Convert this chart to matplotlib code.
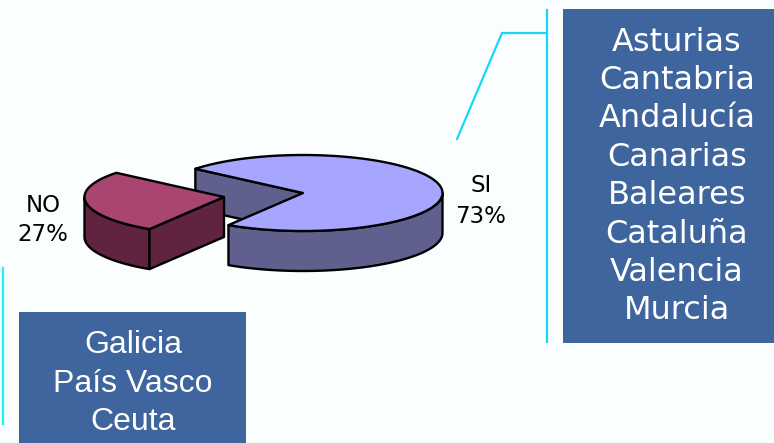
import numpy as np
import matplotlib
matplotlib.use("Agg")
import matplotlib.pyplot as plt
from matplotlib.patches import Polygon, Rectangle

# Data
categories = ["SI", "NO"]
values = [73, 27]
si_regions = ["Asturias", "Cantabria", "Andalucía", "Canarias", "Baleares", "Cataluña", "Valencia", "Murcia"]
no_regions = ["Galicia", "País Vasco", "Ceuta"]

BG = "#FBFEFF"
BOX = "#3E659D"
SI_TOP, SI_SIDE = "#A6A6FF", "#60608F"
NO_TOP, NO_SIDE = "#A84570", "#602440"

fig = plt.figure(figsize=(7.74, 4.43), dpi=100, facecolor=BG)
ax = fig.add_axes([0, 0, 1, 1])
ax.set_xlim(0, 774)
ax.set_ylim(443, 0)
ax.axis("off")

RX, RY, DEPTH = 139.5, 38, 40
START = 140.5
no_span = 360 * values[1] / sum(values)
END = START + no_span


def arc(cx, cy, t0, t1, dy=0, rx=RX):
    t = np.radians(np.linspace(t0, t1, 160))
    return np.column_stack([cx + rx * np.cos(t), cy - RY * np.sin(t) + dy])


def poly(pts, color, z):
    ax.add_patch(Polygon(pts, closed=True, facecolor=color, edgecolor="black",
                         linewidth=1.7, joinstyle="round", zorder=z))


# SI slice
sx, sy = 303, 193
p_start = arc(sx, sy, START, START, rx=RX)[0]
poly([p_start, (sx, sy), (sx, sy + DEPTH), (p_start[0], p_start[1] + DEPTH)], SI_SIDE, 2)
poly(np.vstack([arc(sx, sy, END, 360), arc(sx, sy, 360, END, DEPTH)]), SI_SIDE, 3)
poly(np.vstack([[(sx, sy)], arc(sx, sy, END - 360, START)]), SI_TOP, 4)

# NO slice
nx, ny = 224, 197
p_end = arc(nx, ny, END, END)[0]
poly(np.vstack([arc(nx, ny, 180, END), arc(nx, ny, END, 180, DEPTH)]), NO_SIDE, 5)
poly([(nx, ny), p_end, (p_end[0], p_end[1] + DEPTH), (nx, ny + DEPTH)], NO_SIDE, 5)
poly(np.vstack([[(nx, ny)], arc(nx, ny, START, END)]), NO_TOP, 6)

# Pie labels
lab = dict(family="DejaVu Sans", fontsize=16.5, color="black", ha="center", va="center", zorder=8)
ax.text(481, 186, categories[0], **lab)
ax.text(481, 216, f"{values[0]}%", **lab)
ax.text(43, 205, categories[1], **lab)
ax.text(43, 234, f"{values[1]}%", **lab)

# Cyan connectors
ax.plot([547, 547], [10, 342], color="#19D5FA", lw=1.6, zorder=1)
ax.plot([547, 502, 457], [33, 33, 139], color="#19D5FA", lw=1.6, zorder=1)
ax.plot([3, 3], [268, 424], color="#19F5FA", lw=1.6, zorder=1)

# Boxes
ax.add_patch(Rectangle((563, 9), 211, 334, facecolor=BOX, edgecolor="none", zorder=7))
ax.add_patch(Rectangle((19, 312), 227, 131, facecolor=BOX, edgecolor="none", zorder=7))

for i, name in enumerate(si_regions):
    ax.text(677, 42 + 38.4 * i, name, family="DejaVu Sans", fontsize=23, color="white",
            ha="center", va="center", zorder=8)
for i, name in enumerate(no_regions):
    ax.text(133, 345 + 38.5 * i, name, family="Liberation Sans", fontsize=23, color="white",
            ha="center", va="center", zorder=8)

fig.savefig("out.png", dpi=100, facecolor=BG)
